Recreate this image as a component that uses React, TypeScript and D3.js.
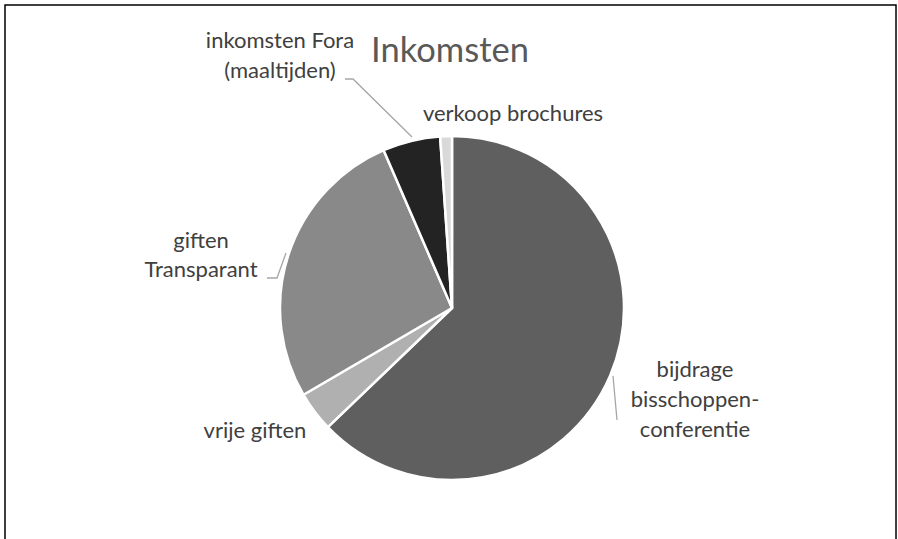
import React, { useEffect, useRef } from "react";
import * as d3 from "d3";

const categories = [
  "bijdrage bisschoppen-conferentie",
  "vrije giften",
  "giften Transparant",
  "inkomsten Fora (maaltijden)",
  "verkoop brochures",
];
const values = [62.8, 3.75, 26.9, 5.4, 1.1];
const colors = ["#5f5f5f", "#b0b0b0", "#898989", "#232323", "#d9d9d9"];
const labelLines = [
  ["bijdrage", "bisschoppen-", "conferentie"],
  ["vrije giften"],
  ["giften", "Transparant"],
  ["inkomsten Fora", "(maaltijden)"],
  ["verkoop brochures"],
];

const W = 898;
const H = 539;
const cx = 452;
const cy = 308;
const R = 172;

export default function App() {
  const ref = useRef<SVGSVGElement>(null);

  useEffect(() => {
    const svg = d3.select(ref.current);
    svg.selectAll("*").remove();
    const font = "Lato, 'Open Sans', sans-serif";

    svg.append("rect").attr("width", W).attr("height", H).attr("fill", "#fff");
    svg.append("rect").attr("x", 5).attr("y", 5).attr("width", 891).attr("height", 545)
      .attr("fill", "none").attr("stroke", "#000").attr("stroke-width", 1.5);

    svg.append("text").attr("x", 450).attr("y", 62).attr("text-anchor", "middle")
      .attr("font-family", font).attr("font-size", 34.5).attr("fill", "#595959").text("Inkomsten");

    const pie = d3.pie<number>().sort(null).value(d => d);
    const arcs = pie(values);
    const arc = d3.arc<d3.PieArcDatum<number>>().innerRadius(0).outerRadius(R);

    const g = svg.append("g").attr("transform", `translate(${cx},${cy})`);
    g.selectAll("path").data(arcs).join("path")
      .attr("d", arc)
      .attr("fill", (d, i) => colors[i])
      .attr("stroke", "#fff").attr("stroke-width", 2.5).attr("stroke-linejoin", "round");

    // leader lines
    const leaders: [number, number][][] = [
      [[613, 376], [617, 420]],
      [],
      [[267, 278], [277, 278], [286, 253]],
      [[345, 79], [353, 79], [412, 137]],
      [],
    ];
    leaders.forEach(pts => {
      if (pts.length < 2) return;
      svg.append("path").attr("d", d3.line()(pts)).attr("fill", "none")
        .attr("stroke", "#a6a6a6").attr("stroke-width", 1.3);
    });

    // label centre x, first baseline, line spacing
    const labelPos: [number, number, number][] = [
      [695, 377, 30],
      [255, 438, 30],
      [201, 248, 29],
      [280, 48, 30],
      [513, 121, 30],
    ];
    labelLines.forEach((lines, i) => {
      const [x, y, dy] = labelPos[i];
      const t = svg.append("text").attr("text-anchor", "middle")
        .attr("font-family", font).attr("font-size", 22).attr("fill", "#404040");
      lines.forEach((l, j) => {
        t.append("tspan").attr("x", x).attr("y", y + j * dy).text(l);
      });
    });
  }, []);

  return <svg ref={ref} width={W} height={H} style={{ position: "absolute", left: 0, top: 0 }} />;
}
